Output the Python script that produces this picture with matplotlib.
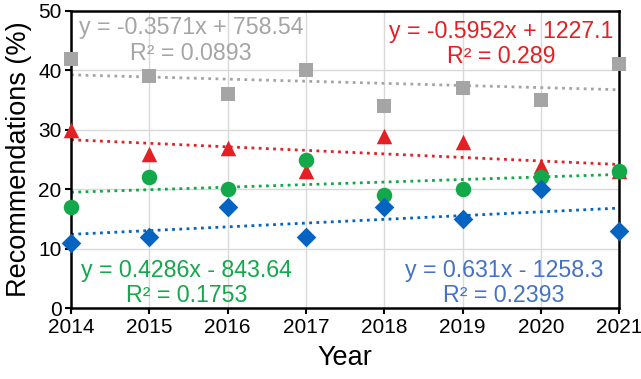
import matplotlib.pyplot as plt
import numpy as np

plt.rcParams['font.family'] = ['Liberation Sans', 'DejaVu Sans']

years = [2014, 2015, 2016, 2017, 2018, 2019, 2020, 2021]
gray_vals = [42, 39, 36, 40, 34, 37, 35, 41]
red_vals = [30, 26, 27, 23, 29, 28, 24, 23]
green_vals = [17, 22, 20, 25, 19, 20, 22, 23]
blue_vals = [11, 12, 17, 12, 17, 15, 20, 13]

# (values, marker colour, text colour, marker, size, label pos)
series = [
    (gray_vals, '#a5a5a5', '#a5a5a5', 's', 110, (2015.53, 47.3, 42.9)),
    (red_vals, '#e32024', '#e32024', '^', 125, (2019.49, 46.5, 42.3)),
    (green_vals, '#13a84a', '#13a84a', 'o', 125, (2015.47, 6.4, 2.2)),
    (blue_vals, '#0563c1', '#4472c4', 'D', 100, (2019.53, 6.4, 2.2)),
]


def r_squared(x, y, coef):
    pred = np.polyval(coef, x)
    ss_res = np.sum((y - pred) ** 2)
    ss_tot = np.sum((y - np.mean(y)) ** 2)
    return 1 - ss_res / ss_tot


def eq_text(coef):
    m, b = coef
    sign = '+' if b >= 0 else '-'
    return f"y = {m:.4g}x {sign} {abs(b):.5g}"


fig = plt.figure(figsize=(6.41, 3.79), dpi=100)
ax = fig.add_axes([0.111, 0.187, 0.855, 0.784])

x = np.array(years, dtype=float)
for vals, mcol, tcol, marker, size, (tx, ty1, ty2) in series:
    y = np.array(vals, dtype=float)
    coef = np.polyfit(x, y, 1)
    ax.plot(x, np.polyval(coef, x), linestyle=(0, (1, 1.6)), color=mcol,
            linewidth=2, zorder=2)
    ax.scatter(x, y, marker=marker, s=size, color=mcol, zorder=3,
               clip_on=False, linewidths=0)
    r2 = f"{r_squared(x, y, coef):.4f}".rstrip('0')
    ax.text(tx, ty1, eq_text(coef), color=tcol, fontsize=16.7,
            ha='center', va='center')
    ax.text(tx, ty2, f"R² = {r2}", color=tcol, fontsize=16.7,
            ha='center', va='center')

ax.set_xlim(2014, 2021)
ax.set_ylim(0, 50)
ax.set_xticks(years)
ax.set_yticks(range(0, 51, 10))
ax.grid(True, color='#d9d9d9', linewidth=1)
ax.set_axisbelow(True)
for sp in ax.spines.values():
    sp.set_color('black')
    sp.set_linewidth(1.8)
ax.tick_params(labelsize=15, length=4, width=1.5, direction='out', pad=3)
ax.set_xlabel('Year', fontsize=19.5, labelpad=6)
ax.set_ylabel('Recommendations (%)', fontsize=19.5, labelpad=4)

fig.savefig('out.png', dpi=100)
